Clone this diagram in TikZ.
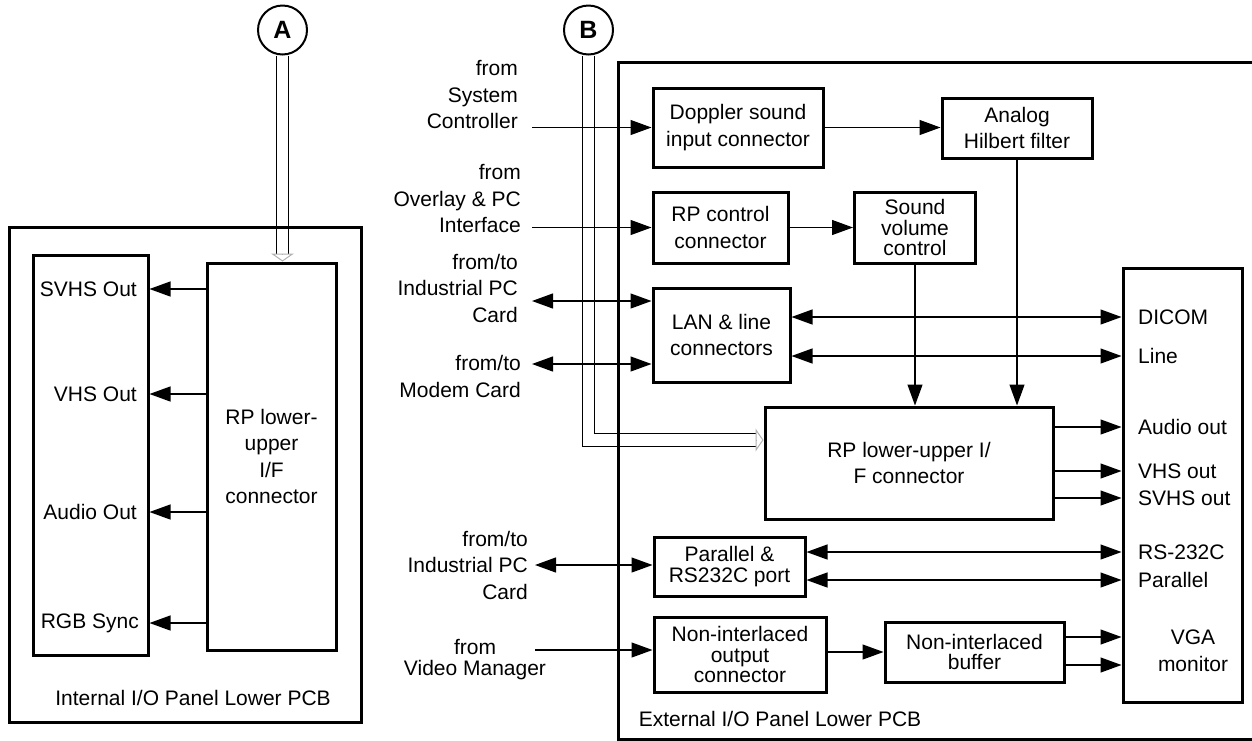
\documentclass[tikz,border=0pt]{standalone}
\usepackage{fontspec}
\setmainfont{Liberation Sans}
\usetikzlibrary{arrows.meta,positioning,calc}

\newcommand\nrmtxt{\fontsize{21}{26.5}\selectfont}
\newcommand\tgttxt{\fontsize{21}{20.5}\selectfont}

\tikzset{
blk/.style={draw, line width=3pt, align=center, inner sep=0pt, font=\nrmtxt},
tight/.style={font=\tgttxt},
lbl/.style={inner sep=0pt, font=\nrmtxt},
circ/.style={circle, draw, line width=2pt, minimum size=49pt, inner sep=0pt,
  font=\fontsize{25}{25}\selectfont\bfseries},
frame/.style={line width=3pt},
arr/.style={line width=1.2pt, -{Triangle[length=21pt,width=15pt]}},
biarr/.style={line width=1.2pt,
  {Triangle[length=21pt,width=15pt]}-{Triangle[length=21pt,width=15pt]}},
bus/.style={draw, double, double distance=11.5pt, line width=1.2pt},
bushead/.style={draw=gray!60, line width=1pt,
  -{Triangle[open,length=8pt,width=23pt]}}
}

\begin{document}
\begin{tikzpicture}[x=1pt,y=-1pt]
\useasboundingbox (0,0) rectangle (1252,740);

% internal panel
\node[blk, minimum width=115pt, minimum height=400pt] (outA) at (90.5,455) {};
\node[blk, minimum width=129pt, minimum height=387pt] (rpA) at (271.5,456.5)
  {RP lower-\\upper\\I/F\\connector};
\node[lbl, anchor=east] (svhsA) at (137,289) {SVHS Out};
\node[lbl, anchor=east] (vhsA) at (137,394) {VHS Out};
\node[lbl, anchor=east] (audA) at (137,512) {Audio Out};
\node[lbl, anchor=east] (rgbA) at (139,623) {RGB Sync};
\node[lbl] (pcbA) at (193,698) {Internal I/O Panel Lower PCB};
\node[circ] (cA) at (282.5,30) {A};

% external panel
\node[circ] (cB) at (588.5,30) {B};
\node[blk, minimum width=170pt, minimum height=79pt] (dop) at (738,127.5)
  {Doppler sound\\input connector};
\node[blk, minimum width=150pt, minimum height=60pt] (ana) at (1017,128)
  {Analog\\Hilbert filter};
\node[blk, minimum width=135pt, minimum height=71pt] (rpc) at (720.5,227.5)
  {RP control\\connector};
\node[blk, tight, minimum width=121pt, minimum height=71pt] (snd) at (915,227.5)
  {Sound\\volume\\control};
\node[blk, minimum width=137pt, minimum height=94pt] (lan) at (721.5,335)
  {LAN \& line\\connectors};
\node[blk, minimum width=288pt, minimum height=112pt] (rpB) at (909,463)
  {RP lower-upper I/\\F connector};
\node[blk, tight, minimum width=151pt, minimum height=59pt] (par) at (729.5,566.5)
  {Parallel \&\\RS232C port};
\node[blk, tight, minimum width=172pt, minimum height=75pt] (nio) at (740,654.5)
  {Non-interlaced\\output\\connector};
\node[blk, tight, minimum width=179pt, minimum height=60pt] (nib) at (974.5,652)
  {Non-interlaced\\buffer};
\node[blk, minimum width=119pt, minimum height=434pt] (dev) at (1182.5,485) {};

\node[lbl, anchor=west] (dicom) at (1138,317) {DICOM};
\node[lbl, anchor=west] (lineB) at (1138,356) {Line};
\node[lbl, anchor=west] (audB) at (1138,427) {Audio out};
\node[lbl, anchor=west] (vhsB) at (1138,471) {VHS out};
\node[lbl, anchor=west] (svhsB) at (1138,498) {SVHS out};
\node[lbl, anchor=west] (rsB) at (1138,552) {RS-232C};
\node[lbl, anchor=west] (prlB) at (1138,580) {Parallel};
\node[lbl, align=center] (vga) at (1193,651) {VGA\\monitor};
\coordinate (vgaA) at (dev.west |- 0,637);
\coordinate (vgaB) at (dev.west |- 0,665);
\node[lbl] (pcbB) at (780,719) {External I/O Panel Lower PCB};

% sources on the left
\node[lbl, align=right, anchor=east] (sysc) at (518,94.5) {from\\System\\Controller};
\node[lbl, align=right, anchor=east] (ovl) at (521,198.5) {from\\Overlay \& PC\\Interface};
\node[lbl, align=right, anchor=east] (ipcA) at (518,288) {from/to\\Industrial PC\\Card};
\node[lbl, align=right, anchor=east] (mdm) at (521,376.5) {from/to\\Modem Card};
\node[lbl, align=right, anchor=east] (ipcB) at (528,565) {from/to\\Industrial PC\\Card};
\node[lbl, tight, align=center] (vman) at (475,659.5) {from\\Video Manager};
\coordinate (inS) at (532,0 |- dop.west);
\coordinate (inO) at (532,0 |- rpc.west);
\coordinate (inI) at (532,301);
\coordinate (inM) at (532,364);
\coordinate (inP) at (535,565);
\coordinate (inV) at (535,650);

% buses from A and B
\coordinate (tipA) at (cA.south |- rpA.north);
\draw[bus] (cA.south) -- ($(tipA)+(0,-8)$);
\draw[bushead] ($(tipA)+(0,-8)$) -- (tipA);
\coordinate (tipB) at ($(rpB.north west)!0.3!(rpB.south west)$);
\draw[bus] (cB.south) |- ($(tipB)+(-8,0)$);
\draw[bushead] ($(tipB)+(-8,0)$) -- (tipB);

% panel frames
\draw[frame] (9,227) rectangle (361,722);
\draw[frame] (1260,62) -- (618,62) -- (618,739) -- (1260,739);

% connectors
\foreach \o in {svhsA,vhsA,audA,rgbA}
  \draw[arr] (rpA.west |- \o) -- (outA.east |- \o);
\draw[arr] (inS) -- (dop.west);
\draw[arr] (inO) -- (rpc.west);
\draw[biarr] (inI) -- (inI -| lan.west);
\draw[biarr] (inM) -- (inM -| lan.west);
\draw[biarr] (inP) -- (inP -| par.west);
\draw[arr] (inV) -- (inV -| nio.west);
\draw[arr] (dop.east) -- (dop.east -| ana.west);
\draw[arr] (rpc.east) -- (snd.west);
\draw[arr] (snd.south) -- (snd.south |- rpB.north);
\draw[arr] (ana.south) -- (ana.south |- rpB.north);
\draw[biarr] (lan.east |- dicom) -- (dev.west |- dicom);
\draw[biarr] (lan.east |- lineB) -- (dev.west |- lineB);
\foreach \o in {audB,vhsB,svhsB}
  \draw[arr] (rpB.east |- \o) -- (dev.west |- \o);
\foreach \o in {rsB,prlB}
  \draw[biarr] (par.east |- \o) -- (dev.west |- \o);
\foreach \o in {vgaA,vgaB}
  \draw[arr] (nib.east |- \o) -- (\o);
\draw[arr] (nio.east |- nib.west) -- (nib.west);
\end{tikzpicture}
\end{document}
